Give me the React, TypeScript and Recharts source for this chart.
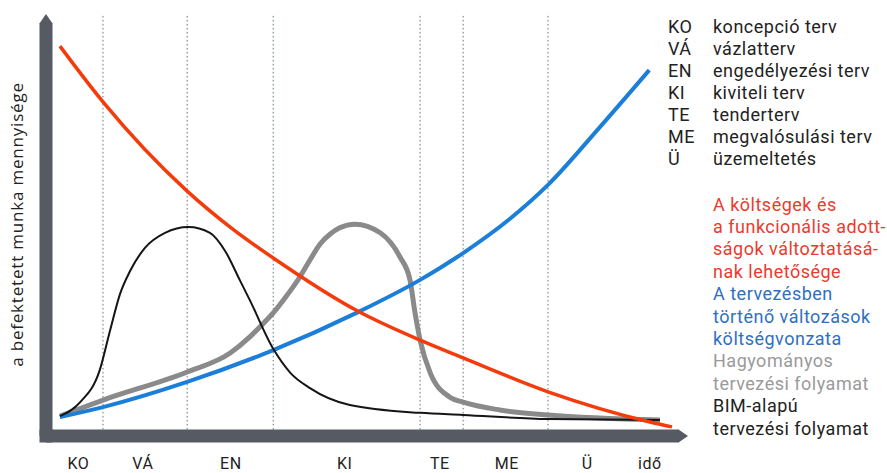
import React from 'react';
import { LineChart, Line, XAxis, YAxis, ReferenceLine } from 'recharts';

// ---- data ----
const phaseTicks = [5.1, 15.3, 29.2, 47.2, 62.2, 72.8, 85.5, 95.4];
const phaseLabels = ['KO', 'VÁ', 'EN', 'KI', 'TE', 'ME', 'Ü', 'idő'];
const phaseBoundaries = [9.0, 22.3, 35.9, 59.1, 65.9, 79.3];

const costInfluenceT = [2.2, 9.0, 22.3, 29.5, 35.9, 49.3, 59.1, 65.9, 79.3, 95.4, 98.9];
const costInfluenceV = [94.4, 80.9, 59.3, 50.1, 43.1, 30.2, 23.2, 18.9, 10.7, 3.4, 2.2];

const changeCostT = [2.2, 9.0, 22.3, 35.9, 49.3, 59.1, 65.9, 73.3, 79.3, 87.5, 95.3];
const changeCostV = [4.6, 7.0, 13.1, 20.8, 30.0, 37.8, 44.3, 52.6, 60.8, 74.8, 88.6];

const traditionalT = [2.2, 9.0, 22.3, 29.1, 32.2, 34.1, 35.9, 37.9, 40.1, 41.7, 43.3, 44.9, 46.4, 48.8, 52.8, 55.9, 57.5, 58.3, 59.1, 60.7, 63.8, 65.9, 71.7, 79.3, 97.0];
const traditionalV = [4.8, 8.7, 15.5, 20.1, 24.0, 26.9, 29.8, 33.7, 38.5, 42.6, 46.5, 48.9, 50.4, 51.3, 49.2, 43.4, 37.8, 29.8, 23.2, 15.3, 9.4, 8.2, 6.3, 5.1, 3.9];

const bimT = [2.2, 5.4, 8.5, 10.1, 11.7, 13.3, 15.6, 18.8, 22.5, 25.9, 28.3, 30.6, 32.2, 35.9, 38.6, 41.7, 48.0, 59.1, 65.9, 79.3, 97.0];
const bimV = [4.8, 8.2, 16.0, 25.4, 34.4, 40.0, 45.5, 49.2, 50.6, 49.2, 44.8, 37.8, 32.9, 21.1, 15.3, 11.6, 7.5, 5.6, 5.1, 4.1, 3.9];

const phaseAbbr = ['KO', 'VÁ', 'EN', 'KI', 'TE', 'ME', 'Ü'];
const phaseNames = ['koncepció terv', 'vázlatterv', 'engedélyezési terv', 'kiviteli terv', 'tenderterv', 'megvalósulási terv', 'üzemeltetés'];

const seriesLegendLines = [
  ['A költségek és', 'a funkcionális adott-', 'ságok változtatásá-', 'nak lehetősége'],
  ['A tervezésben', 'történő változások', 'költségvonzata'],
  ['Hagyományos', 'tervezési folyamat'],
  ['BIM-alapú', 'tervezési folyamat'],
];
const seriesLegendColors = ['#ec3a2e', '#2f6fbf', '#9a9a9a', '#222222'];

const yTitle = 'a befektetett munka mennyisége';

// ---- styles ----
const AXIS_COLOR = '#555a63';
const FONT = 'Roboto, "Noto Sans", sans-serif';

const toPoints = (ts: number[], vs: number[]) => ts.map((t, i) => ({ t, v: vs[i] }));
const costInfluence = toPoints(costInfluenceT, costInfluenceV);
const changeCost = toPoints(changeCostT, changeCostV);
const traditional = toPoints(traditionalT, traditionalV);
const bim = toPoints(bimT, bimV);

const YTitle = (props: any) => {
  const vb = props.viewBox || { x: 45, y: 23, width: 1, height: 413 };
  const x = vb.x + (vb.width || 0) - 23;
  const y = vb.y + vb.height / 2 - 5;
  return (
    <text
      x={x}
      y={y}
      transform={`rotate(-90, ${x}, ${y})`}
      textAnchor="middle"
      fill="#222"
      style={{ fontFamily: '"Open Sans", sans-serif', fontSize: 17, letterSpacing: 0.8 }}
    >
      {yTitle}
    </text>
  );
};

export default function App() {
  return (
    <div style={{ position: 'absolute', left: 0, top: 0, width: 887, height: 473, background: '#fff' }}>
      <svg width={0} height={0} style={{ position: 'absolute' }}>
        <defs>
          <marker id="axArrow" markerUnits="userSpaceOnUse" markerWidth={30} markerHeight={30}
            viewBox="-15 -15 30 30" refX={0} refY={0} orient="auto-start-reverse" overflow="visible">
            <path d="M-0.5,-6.5 L9,0 L-0.5,6.5 Z" fill={AXIS_COLOR} />
          </marker>
          <marker id="axCorner" markerUnits="userSpaceOnUse" markerWidth={30} markerHeight={30}
            viewBox="-15 -15 30 30" refX={0} refY={0} orient="auto" overflow="visible">
            <rect x={-6.5} y={-6.5} width={13} height={13} fill={AXIS_COLOR} />
          </marker>
        </defs>
      </svg>
      <LineChart width={887} height={473} margin={{ top: 23, right: 208, bottom: 0, left: 45 }}>
        <XAxis
          type="number"
          dataKey="t"
          domain={[0, 100]}
          ticks={phaseTicks}
          interval={0}
          tickFormatter={(v: number) => phaseLabels[phaseTicks.indexOf(v)] ?? ''}
          height={37}
          tickLine={false}
          tickSize={0}
          tickMargin={22}
          axisLine={{ stroke: AXIS_COLOR, strokeWidth: 13, markerStart: 'url(#axCorner)', markerEnd: 'url(#axArrow)' } as any}
          tick={{ fill: '#222', fontSize: 16, fontFamily: FONT, letterSpacing: 0.5 } as any}
          allowDuplicatedCategory={false}
        />
        <YAxis
          type="number"
          dataKey="v"
          domain={[0, 100]}
          width={1}
          tick={false}
          tickLine={false}
          axisLine={{ stroke: AXIS_COLOR, strokeWidth: 13, markerStart: 'url(#axArrow)' } as any}
          label={<YTitle />}
        />
        {phaseBoundaries.map((b) => (
          <ReferenceLine
            key={b}
            segment={[{ x: b, y: 1.6 }, { x: b, y: 102 }]}
            ifOverflow="visible"
            stroke="#5a7584"
            strokeWidth={1}
            strokeDasharray="1.5 2.5"
          />
        ))}
        <Line data={traditional} dataKey="v" type="monotone" stroke="#8a8a8a" strokeWidth={5} dot={false} isAnimationActive={false} />
        <Line data={changeCost} dataKey="v" type="monotone" stroke="#1b7fd9" strokeWidth={4} dot={false} isAnimationActive={false} />
        <Line data={bim} dataKey="v" type="monotone" stroke="#151515" strokeWidth={2} dot={false} isAnimationActive={false} />
        <Line data={costInfluence} dataKey="v" type="monotone" stroke="#f33b0c" strokeWidth={3.5} dot={false} isAnimationActive={false} />
      </LineChart>

      <div style={{ position: 'absolute', left: 668, top: 16, fontFamily: FONT, fontSize: 18, lineHeight: '22px', letterSpacing: 0.5, color: '#222' }}>
        {phaseAbbr.map((a, i) => (
          <div key={a} style={{ display: 'flex', whiteSpace: 'nowrap' }}>
            <span style={{ width: 45, display: 'inline-block' }}>{a}</span>
            <span>{phaseNames[i]}</span>
          </div>
        ))}
      </div>

      <div style={{ position: 'absolute', left: 713, top: 193.6, fontFamily: FONT, fontSize: 18, lineHeight: '22.4px', letterSpacing: 0.5 }}>
        {seriesLegendLines.map((lines, i) =>
          lines.map((l, j) => (
            <div key={`${i}-${j}`} style={{ color: seriesLegendColors[i], whiteSpace: 'nowrap' }}>{l}</div>
          ))
        )}
      </div>
    </div>
  );
}
